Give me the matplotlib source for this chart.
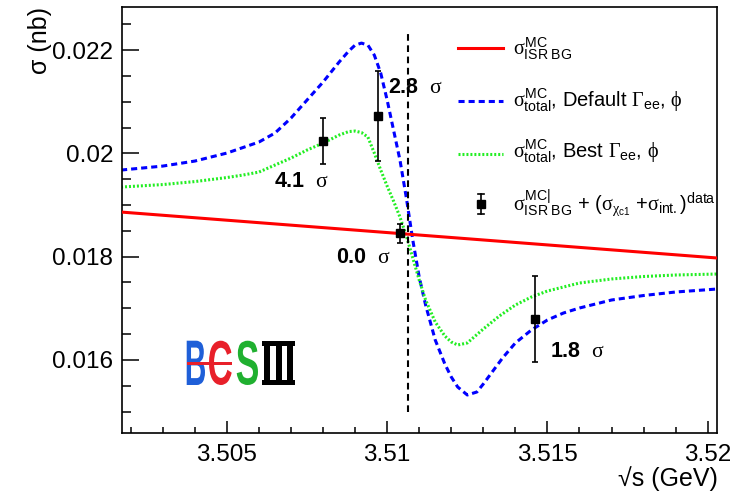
import matplotlib
matplotlib.use("Agg")
import matplotlib.pyplot as plt
from matplotlib.lines import Line2D
from matplotlib.patches import PathPatch, Rectangle
from matplotlib.textpath import TextPath
from matplotlib.font_manager import FontProperties
from matplotlib.transforms import Affine2D

plt.rcParams['font.family'] = ['Liberation Sans', 'DejaVu Sans']
plt.rcParams['mathtext.fontset'] = 'custom'
plt.rcParams['mathtext.rm'] = 'Liberation Serif'
plt.rcParams['mathtext.it'] = 'Liberation Serif'
plt.rcParams['mathtext.sf'] = 'Liberation Sans'
plt.rcParams['mathtext.bf'] = 'Liberation Sans:bold'

# ---- data -------------------------------------------------------------
# ISR background (MC), straight line across the scan range
bg_x = [3.5017, 3.5203]
bg_y = [0.018864, 0.017974]

# total cross section, default Gamma_ee and phi
default_x = [3.5017, 3.503, 3.504, 3.505, 3.506, 3.5065, 3.507, 3.5075, 3.508,
             3.5085, 3.5088, 3.509, 3.5092, 3.5094, 3.5096, 3.5098, 3.510,
             3.5102, 3.5104, 3.5106, 3.5108, 3.511, 3.5112, 3.5115, 3.5118,
             3.512, 3.5122, 3.5125, 3.5128, 3.513, 3.5133, 3.5136, 3.514,
             3.5145, 3.515, 3.5155, 3.516, 3.517, 3.518, 3.519, 3.5203]
default_y = [0.019677, 0.019754, 0.019851, 0.020006, 0.020219, 0.020393,
             0.020683, 0.021032, 0.021380, 0.021767, 0.021980, 0.022096,
             0.022135, 0.022096, 0.021902, 0.021554, 0.021032, 0.020451,
             0.019870, 0.019135, 0.018322, 0.017606, 0.017064, 0.016387,
             0.015922, 0.015671, 0.015477, 0.015322, 0.015380, 0.015535,
             0.015787, 0.016038, 0.016329, 0.016580, 0.016774, 0.016909,
             0.017006, 0.017161, 0.017248, 0.017316, 0.017374]

# total cross section, best Gamma_ee and phi
best_x = [3.5017, 3.503, 3.504, 3.505, 3.5055, 3.506, 3.5065, 3.507, 3.5075,
          3.508, 3.5085, 3.5088, 3.509, 3.5092, 3.5094, 3.5096, 3.5098,
          3.510, 3.5102, 3.5104, 3.5106, 3.5108, 3.511, 3.5112, 3.5115,
          3.5118, 3.512, 3.5122, 3.5125, 3.513, 3.5135, 3.514, 3.5145,
          3.515, 3.516, 3.517, 3.518, 3.519, 3.5203]
best_y = [0.019348, 0.019396, 0.019454, 0.019532, 0.019580, 0.019638,
          0.019774, 0.019909, 0.020064, 0.020199, 0.020354, 0.020422,
          0.020432, 0.020403, 0.020315, 0.020006, 0.019677, 0.019367,
          0.019077, 0.018767, 0.018399, 0.017974, 0.017548, 0.017161,
          0.016735, 0.016464, 0.016348, 0.016290, 0.016329, 0.016600,
          0.016851, 0.017064, 0.017219, 0.017335, 0.017490, 0.017568,
          0.017616, 0.017645, 0.017664]

# scan points: ISR BG (MC) + measured (chi_c1 + interference)
pt_x = [3.5080, 3.5097, 3.5104, 3.5146]
pt_y = [0.02024, 0.02072, 0.01845, 0.01679]
pt_err = [0.00044, 0.00087, 0.00019, 0.00083]
pt_sig = ["4.1", "2.8", "0.0", "1.8"]

peak_x = 3.51066

W, H = 745, 495


def fig_xy(px, py):
    return px / W, 1 - py / H


fig = plt.figure(figsize=(W / 100, H / 100), dpi=100)
ax = fig.add_axes([121.7 / W, 1 - 433.3 / H, 595 / W, 426.6 / H])

ax.plot(bg_x, bg_y, color='#ff0000', lw=2.2, solid_capstyle='butt', zorder=3)
ax.plot(default_x, default_y, color='#0000ff', lw=2.2, dashes=(2.0, 1.3),
        zorder=2)
ax.plot(best_x, best_y, color='#22ee22', lw=2.2, dashes=(0.65, 0.65), zorder=2)
ax.plot([peak_x, peak_x], [0.01500, 0.02239], color='black', lw=1.5,
        dashes=(3.2, 2.2), zorder=4)
ax.errorbar(pt_x, pt_y, yerr=pt_err, fmt='s', color='black', ms=6,
            elinewidth=1.2, capsize=2.5, capthick=1.2, zorder=5)

# significance labels next to each point
sig_pos = [(3.50647, 0.019464), (3.51003, 0.021283),
           (3.50840, 0.017993), (3.51508, 0.016155)]
for s, (tx, ty) in zip(pt_sig, sig_pos):
    ax.text(tx, ty, r"$\mathbf{%s}\ \ \sigma$" % s, fontsize=15.5,
            ha='left', va='center')

ax.set_xlim(3.50172, 3.52028)
ax.set_ylim(0.01458, 0.02284)
ax.set_xticks([3.505, 3.51, 3.515, 3.52])
ax.set_xticklabels(["3.505", "3.51", "3.515", "3.52"])
ax.set_yticks([0.016, 0.018, 0.02, 0.022])
ax.set_yticklabels(["0.016", "0.018", "0.02", "0.022"])
ax.set_xticks([3.502 + 0.001 * i for i in range(19)], minor=True)
ax.set_yticks([0.015 + 0.0005 * i for i in range(16)], minor=True)
ax.tick_params(axis='both', which='both', direction='in', top=False,
               right=False, labelsize=17.5, width=1.1)
ax.tick_params(axis='x', which='major', length=9, pad=8)
ax.tick_params(axis='x', which='minor', length=4.5)
ax.tick_params(axis='y', which='major', length=12.5, pad=6)
ax.tick_params(axis='y', which='minor', length=6.5)
for sp in ax.spines.values():
    sp.set_linewidth(1.2)

fig.text(*fig_xy(718, 479), "√s (GeV)", fontsize=18, ha='right', va='center')
fig.text(*fig_xy(40, 7), "σ (nb)", fontsize=18, ha='center', va='top',
         rotation=90)

# legend drawn on the figure
leg_lines = [dict(color='#ff0000', lw=2.2),
             dict(color='#0000ff', lw=2.2, dashes=(2.0, 1.3)),
             dict(color='#22ee22', lw=2.2, dashes=(0.65, 0.65))]
leg_rows = [48.3, 101, 154]
for kw, yy in zip(leg_lines, leg_rows):
    (x0, y0), (x1, _) = fig_xy(458.3, yy), fig_xy(503.3, yy)
    fig.add_artist(Line2D([x0, x1], [y0, y0], transform=fig.transFigure, **kw))
mx, my = fig_xy(481, 204)
fig.add_artist(Line2D([mx, mx], [my - 10 / H, my + 10 / H], color='black',
                      lw=1.2, transform=fig.transFigure))
for dy in (-10, 10):
    fig.add_artist(Line2D([mx - 3 / W, mx + 3 / W], [my + dy / H, my + dy / H],
                          color='black', lw=1.2, transform=fig.transFigure))
fig.add_artist(Line2D([mx], [my], marker='s', ms=6, color='black',
                      transform=fig.transFigure))

leg_text = [
    r"$\sigma^{\mathsf{MC}}_{\mathsf{ISR\ BG}}$",
    r"$\sigma^{\mathsf{MC}}_{\mathsf{total}}$, Default $\Gamma_{\mathsf{ee}}$, $\phi$",
    r"$\sigma^{\mathsf{MC}}_{\mathsf{total}}$, Best $\Gamma_{\mathsf{ee}}$, $\phi$",
    r"$\sigma^{\mathsf{MC|}}_{\mathsf{ISR\ BG}}$ + ($\sigma_{\chi_{\mathsf{c1}}}$ +$\sigma_{\mathsf{int.}}$)$^{\mathsf{data}}$",
]
leg_base = [55, 106.7, 158.3, 210]
for t, yb in zip(leg_text, leg_base):
    fig.text(*fig_xy(513.3, yb), t, fontsize=14.5, ha='left', va='baseline')

# BESIII logo
lax = fig.add_axes([185 / W, 1 - 388 / H, 112 / W, 51 / H])
lax.set_xlim(185, 297)
lax.set_ylim(H - 388, H - 337)
lax.axis('off')
bold = FontProperties(family='Liberation Sans', weight='bold')


def put_glyph(ch, x0, x1, ytop, ybot, color):
    tp = TextPath((0, 0), ch, size=1, prop=bold)
    e = tp.get_extents()
    y0, y1 = H - ybot, H - ytop
    tr = (Affine2D().translate(-e.x0, -e.y0)
          .scale((x1 - x0) / e.width, (y1 - y0) / e.height)
          .translate(x0, y0))
    lax.add_patch(PathPatch(tr.transform_path(tp), fc=color, ec='none'))


put_glyph("B", 186.7, 205, 340.7, 385, '#1f5fd8')
put_glyph("C", 209, 231.7, 340.7, 385, '#e8202a')
put_glyph("S", 236.7, 258, 340.7, 385, '#20b030')
lax.add_patch(Rectangle((186.7, H - 365), 45, 3.2, fc='#e8202a', ec='none'))
for x0 in (264, 275.5, 287):
    lax.add_patch(Rectangle((x0, H - 385), 6, 44.3, fc='black', ec='none'))
lax.add_patch(Rectangle((261.7, H - 345.5), 33.3, 4.8, fc='black', ec='none'))
lax.add_patch(Rectangle((261.7, H - 385), 33.3, 4.8, fc='black', ec='none'))

fig.savefig("out.png", dpi=100)
